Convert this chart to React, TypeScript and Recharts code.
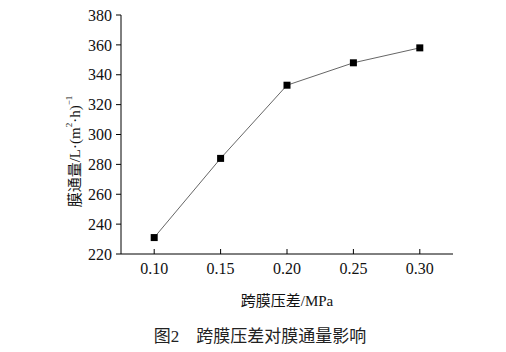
import React from 'react';
import { LineChart, Line, XAxis, YAxis, Label } from 'recharts';

// 跨膜压差 (MPa) 与 膜通量
const pressures = [0.1, 0.15, 0.2, 0.25, 0.3];
const fluxValues = [231, 284, 333, 348, 358];
const xTicks = [0.1, 0.15, 0.2, 0.25, 0.3];
const yTicks = [220, 240, 260, 280, 300, 320, 340, 360, 380];

const data = pressures.map((p, i) => ({ p, flux: fluxValues[i] }));

const FONT = '"Liberation Serif", "Times New Roman", "Noto Sans CJK SC", serif';

const SquareDot = (props: any) => {
  const { cx, cy } = props;
  if (cx == null || cy == null) return null;
  return <rect x={cx - 3.5} y={cy - 3.5} width={7} height={7} fill="#000" />;
};

const YLabel = (props: any) => {
  const vb = props.viewBox || { x: 0, y: 0, width: 0, height: 0 };
  const cx = vb.x + vb.width - 46;
  const cy = vb.y + vb.height / 2 + 17;
  return (
    <text
      x={cx}
      y={cy}
      transform={`rotate(-90, ${cx}, ${cy})`}
      textAnchor="middle"
      dominantBaseline="central"
      fontSize={15}
      fontFamily={FONT}
      fill="#111"
    >
      膜通量/L·(m
      <tspan fontSize={9} dy={-6}>2</tspan>
      <tspan dy={6}>·h)</tspan>
      <tspan fontSize={9} dy={-6}>−1</tspan>
    </text>
  );
};

export default function App() {
  return (
    <div style={{ position: 'absolute', left: 0, top: 0, width: 506, height: 352, background: '#fff' }}>
      <LineChart
        width={506}
        height={352}
        data={data}
        margin={{ top: 15, right: 53, bottom: 68, left: 76 }}
      >
        <XAxis
          dataKey="p"
          type="number"
          domain={[0.075, 0.325]}
          ticks={xTicks}
          tickFormatter={(v: number) => v.toFixed(2)}
          height={30}
          tickSize={-5}
          tickMargin={14}
          stroke="#000"
          tick={{ fill: '#111', fontSize: 16, fontFamily: FONT }}
          axisLine={{ stroke: '#000', strokeWidth: 1 }}
          tickLine={{ stroke: '#000' }}
        >
          <Label
            value="跨膜压差/MPa"
            position="bottom"
            offset={11}
            style={{ fontSize: 15, fontFamily: FONT, fill: '#111' }}
          />
        </XAxis>
        <YAxis
          type="number"
          domain={[220, 380]}
          ticks={yTicks}
          width={45}
          tickSize={5}
          tickMargin={4}
          stroke="#000"
          tick={{ fill: '#111', fontSize: 16, fontFamily: FONT }}
          axisLine={{ stroke: '#000', strokeWidth: 1 }}
          tickLine={{ stroke: '#000' }}
          label={{ content: <YLabel /> }}
        />
        <Line
          dataKey="flux"
          stroke="#666"
          strokeWidth={1}
          dot={<SquareDot />}
          activeDot={false}
          isAnimationActive={false}
        />
      </LineChart>
      <div
        style={{
          position: 'absolute',
          left: 0,
          top: 322,
          width: 506,
          textAlign: 'center',
          fontSize: 17,
          fontFamily: FONT,
          color: '#222',
          paddingLeft: 14,
          boxSizing: 'border-box',
        }}
      >
        图2&nbsp;&nbsp;&nbsp;&nbsp;跨膜压差对膜通量影响
      </div>
    </div>
  );
}
